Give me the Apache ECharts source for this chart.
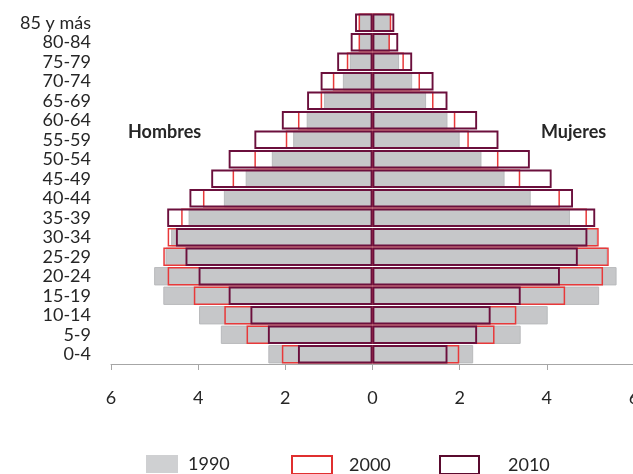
<!DOCTYPE html>
<html>
<head>
<meta charset="utf-8">
<script src="https://cdn.jsdelivr.net/npm/echarts@6/dist/echarts.min.js"></script>
<style>html,body{margin:0;padding:0;background:#fff;}#c{width:633px;height:474px;}</style>
</head>
<body>
<div id="c"></div>
<script>
const categories = ['0-4','5-9','10-14','15-19','20-24','25-29','30-34','35-39','40-44','45-49','50-54','55-59','60-64','65-69','70-74','75-79','80-84','85 y más'];
const men1990 = [2.39,3.48,3.98,4.80,5.01,4.75,4.62,4.22,3.41,2.91,2.31,1.82,1.51,1.11,0.68,0.52,0.31,0.30];
const men2000 = [2.08,2.89,3.40,4.10,4.70,4.80,4.70,4.39,3.89,3.21,2.71,1.99,1.71,1.19,0.91,0.59,0.32,0.32];
const men2010 = [1.71,2.40,2.80,3.30,3.99,4.29,4.51,4.71,4.20,3.70,3.30,2.71,2.08,1.50,1.19,0.81,0.50,0.40];
const women1990 = [2.31,3.40,4.02,5.20,5.60,5.38,5.15,4.53,3.63,3.03,2.50,2.00,1.72,1.23,0.91,0.61,0.39,0.41];
const women2000 = [1.99,2.80,3.30,4.42,5.29,5.42,5.19,4.92,4.30,3.39,2.89,2.21,1.90,1.40,1.09,0.72,0.40,0.43];
const women2010 = [1.72,2.40,2.71,3.40,4.30,4.71,4.93,5.11,4.60,4.11,3.61,2.89,2.40,1.72,1.40,0.91,0.59,0.50];
const years = ['1990','2000','2010'];
const sideLabels = ['Hombres','Mujeres'];

const FONT = 'Lato';
const GRAY = '#c6c7c9', RED = '#e8393a', MAROON = '#6b0f3c';
const neg = a => a.map(v => -v);

const styles = {
  '1990': {color: GRAY, borderColor: '#b9babc', borderWidth: 1},
  '2000': {color: 'rgba(0,0,0,0)', borderColor: RED, borderWidth: 1.5},
  '2010': {color: 'rgba(0,0,0,0)', borderColor: MAROON, borderWidth: 1.9}
};
const menData = {'1990': men1990, '2000': men2000, '2010': men2010};
const womenData = {'1990': women1990, '2000': women2000, '2010': women2010};

const series = [];
years.forEach(y => {
  [neg(menData[y]), womenData[y]].forEach(d => {
    series.push({
      name: y, type: 'bar', data: d,
      barGap: '-100%', barCategoryGap: '6%',
      itemStyle: styles[y], emphasis: {disabled: true}, animation: false
    });
  });
});

function legendFor(name, left, w, pad, iconStyle) {
  return {
    data: [{name: name, icon: 'rect', itemStyle: iconStyle}],
    left: left, top: 455, padding: 0, itemWidth: w, itemHeight: 18,
    selectedMode: false,
    textStyle: {fontFamily: FONT, fontSize: 18, color: '#262626', padding: [0,0,0,pad]}
  };
}

const chart = echarts.init(document.getElementById('c'), null, {renderer: 'canvas'});
chart.setOption({
  animation: false,
  grid: {left: 111, top: 13, width: 523, height: 351, containLabel: false, outerBoundsMode: 'none'},
  xAxis: {
    type: 'value', min: -6, max: 6, interval: 2,
    axisLine: {show: true, lineStyle: {color: '#a6a6a6', width: 1}},
    axisTick: {show: true, length: 6, lineStyle: {color: '#a6a6a6'}},
    splitLine: {show: false},
    axisLabel: {formatter: v => String(Math.abs(v)), fontFamily: FONT, fontSize: 18, color: '#262626', margin: 25, showMaxLabel: true}
  },
  yAxis: {
    type: 'category', data: categories,
    axisLine: {show: false}, axisTick: {show: false},
    axisLabel: {fontFamily: FONT, fontSize: 18, color: '#262626', margin: 20, interval: 0}
  },
  legend: [
    legendFor('1990', 146, 32, 5, {color: '#cfd0d2', borderWidth: 0}),
    legendFor('2000', 291, 40, 12, {color: '#fff', borderColor: '#e02f2f', borderWidth: 2}),
    legendFor('2010', 439, 39, 24, {color: '#fff', borderColor: '#5a0a2e', borderWidth: 2})
  ],
  graphic: [
    {type: 'text', left: 128, top: 123, style: {text: sideLabels[0], font: 'bold 18px Lato', fill: '#262626'}},
    {type: 'text', left: 541, top: 123, style: {text: sideLabels[1], font: 'bold 18px Lato', fill: '#262626'}}
  ],
  series: series
});
</script>
</body>
</html>
